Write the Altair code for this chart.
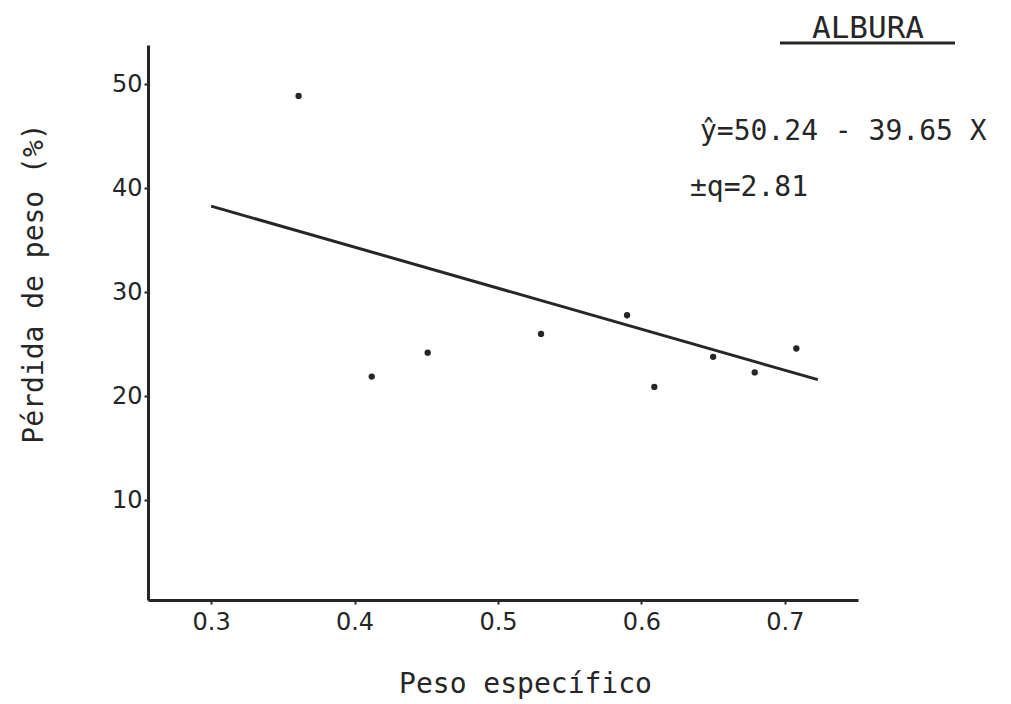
import altair as alt
import pandas as pd

peso_especifico = [0.361, 0.412, 0.451, 0.530, 0.590, 0.609, 0.650, 0.679, 0.708]
perdida_peso = [48.9, 21.9, 24.2, 26.0, 27.8, 20.9, 23.8, 22.3, 24.6]

# Fitted line endpoints
line_x = [0.300, 0.723]
line_y = [38.3, 21.6]

x_ticks = [0.3, 0.4, 0.5, 0.6, 0.7]
y_ticks = [10, 20, 30, 40, 50]

title_text = "ALBURA"
eq_text = "ŷ=50.24 - 39.65 X"
q_text = "±q=2.81"

FONT = "DejaVu Sans"
MONO = "DejaVu Sans Mono"
INK = "#262626"

pts = pd.DataFrame({"x": peso_especifico, "y": perdida_peso})
ln = pd.DataFrame({"x": line_x, "y": line_y})

xscale = alt.Scale(domain=[0.256, 0.751], nice=False, zero=False)
yscale = alt.Scale(domain=[0.4, 53.8], nice=False, zero=False)

xaxis = alt.Axis(values=x_ticks, format=".1f", title="Peso específico",
                 grid=False, domainColor=INK, domainWidth=3, tickColor=INK,
                 tickWidth=2, tickSize=4, labelFont=FONT, labelFontSize=24,
                 labelColor=INK, labelPadding=6, titleFont=MONO, titleFontSize=28,
                 titleFontWeight="normal", titleColor=INK, titleX=377, titleY=92,
                 titleBaseline="alphabetic")
yaxis = alt.Axis(values=y_ticks, format="d", title="Pérdida de peso (%)",
                 grid=False, domainColor=INK, domainWidth=3, tickColor=INK,
                 tickWidth=2, tickSize=4, labelFont=FONT, labelFontSize=24,
                 labelColor=INK, labelPadding=2, titleFont=MONO, titleFontSize=28,
                 titleFontWeight="normal", titleColor=INK, titleX=-106, titleY=238,
                 titleAngle=-90, titleAlign="center", titleBaseline="alphabetic")

points = alt.Chart(pts).mark_circle(size=40, color=INK, opacity=1).encode(
    x=alt.X("x:Q", scale=xscale, axis=xaxis),
    y=alt.Y("y:Q", scale=yscale, axis=yaxis),
)

line = alt.Chart(ln).mark_line(color=INK, strokeWidth=3).encode(
    x=alt.X("x:Q", scale=xscale),
    y=alt.Y("y:Q", scale=yscale),
)

title_mark = alt.Chart(pd.DataFrame({"t": [title_text]})).mark_text(
    font=MONO, fontSize=31, color=INK, align="center", baseline="alphabetic"
).encode(x=alt.value(720), y=alt.value(-7), text="t:N")

underline = alt.Chart(pd.DataFrame({"t": [title_text]})).mark_rule(
    color=INK, strokeWidth=3
).encode(x=alt.value(632), x2=alt.value(807), y=alt.value(-2))

eq_mark = alt.Chart(pd.DataFrame({"t": [eq_text]})).mark_text(
    font=MONO, fontSize=28, color=INK, align="left", baseline="alphabetic"
).encode(x=alt.value(552), y=alt.value(95), text="t:N")

q_mark = alt.Chart(pd.DataFrame({"t": [q_text]})).mark_text(
    font=MONO, fontSize=28, color=INK, align="left", baseline="alphabetic"
).encode(x=alt.value(542), y=alt.value(151), text="t:N")

chart = alt.layer(line, points, title_mark, underline, eq_mark, q_mark).properties(
    width=710, height=555,
    autosize=alt.AutoSizeParams(type="none"),
    padding={"left": 148, "top": 45, "right": 153, "bottom": 104},
    background="white",
).configure_view(strokeWidth=0)

chart.save("out.html", embed_options={"renderer": "svg", "actions": False})
